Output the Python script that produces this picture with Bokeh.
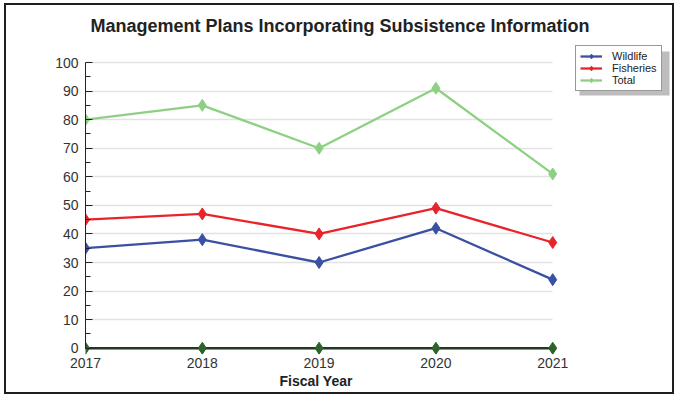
from bokeh.plotting import figure
from bokeh.models import Legend, LegendItem, Range1d, FixedTicker, BoxAnnotation, Title
from bokeh.embed import file_html
from bokeh.resources import INLINE

years = [2017, 2018, 2019, 2020, 2021]
wildlife = [35, 38, 30, 42, 24]
fisheries = [45, 47, 40, 49, 37]
total = [80, 85, 70, 91, 61]
baseline = [0, 0, 0, 0, 0]
y_ticks = [0, 10, 20, 30, 40, 50, 60, 70, 80, 90, 100]

FONT = "Liberation Sans"

# frame is extended right/up to leave room for the legend; axes and grid are bounded to the data extent
p = figure(width=670, height=391, output_backend="svg", toolbar_location=None,
           x_range=Range1d(2017, 2022), y_range=Range1d(-2.2, 107),
           min_border_left=79, min_border_right=7, min_border_top=37, min_border_bottom=42)
p.styles = {"border": "2px solid #1e1e1e", "margin-left": "4px", "margin-top": "3px"}
p.outline_line_color = None
p.background_fill_color = "white"

p.title.text = "Management Plans Incorporating Subsistence Information"
p.title.text_font = FONT
p.title.text_font_size = "18px"
p.title.text_font_style = "bold"
p.title.text_color = "#222222"
p.title.align = "left"
p.title.offset = 5
p.title.standoff = 14

p.xgrid.visible = False
p.ygrid.grid_line_color = "#e2e2e2"
p.ygrid.grid_line_width = 1.5
p.ygrid.cross_bounds = (years[0], years[-1])

p.xaxis.ticker = FixedTicker(ticks=years)
p.xaxis.bounds = (years[0], years[-1])
p.xaxis.major_tick_line_color = None
p.xaxis.minor_tick_line_color = None
p.xaxis.axis_line_color = None
p.xaxis.major_label_standoff = -3

xlabel = Title(text="Fiscal Year", align="left", offset=194, standoff=0,
               text_font=FONT, text_font_size="14px", text_font_style="bold",
               text_color="#222222")
p.add_layout(xlabel, "below")

p.yaxis.ticker = FixedTicker(ticks=y_ticks, minor_ticks=list(range(5, 100, 10)))
p.yaxis.bounds = (y_ticks[0], y_ticks[-1])
p.yaxis.major_tick_in = 7
p.yaxis.major_tick_out = 0
p.yaxis.minor_tick_in = 5
p.yaxis.minor_tick_out = 0
p.yaxis.major_tick_line_color = "#222222"
p.yaxis.minor_tick_line_color = "#222222"
p.yaxis.axis_line_color = "#222222"
p.yaxis.major_label_standoff = 7

for ax in (p.xaxis, p.yaxis):
    ax.major_label_text_font = FONT
    ax.major_label_text_font_size = "14px"
    ax.major_label_text_color = "#333333"

series = [("Wildlife", wildlife, "#3a50a2"),
          ("Fisheries", fisheries, "#e8232a"),
          ("Total", total, "#8ed083")]
items = []
for name, vals, col in series:
    l = p.line(years, vals, line_color=col, line_width=2.3)
    m = p.scatter(years, vals, marker="diamond", size=12, fill_color=col, line_color=col)
    items.append(LegendItem(label=name, renderers=[l, m]))

p.line(years, baseline, line_color="#1f3a1c", line_width=2.5)
p.scatter(years, baseline, marker="diamond", size=12, fill_color="#2d632b", line_color="#2d632b")

# legend drop shadow (screen units, relative to frame bottom-left)
shadow = BoxAnnotation(left=494, right=587, bottom=259, top=303,
                       left_units="screen", right_units="screen",
                       bottom_units="screen", top_units="screen",
                       fill_color="#bdbdbd", fill_alpha=1, line_color=None)
p.add_layout(shadow)

legend = Legend(items=items, location=(490, 263))
legend.label_text_font = FONT
legend.label_text_font_size = "11px"
legend.label_text_color = "#222222"
legend.label_height = 12
legend.glyph_height = 12
legend.glyph_width = 22
legend.spacing = 0
legend.padding = 4
legend.margin = 0
legend.label_standoff = 10
legend.border_line_color = "#333333"
legend.border_line_width = 1
legend.background_fill_alpha = 1
p.add_layout(legend, "center")

open("out.html", "w").write(file_html(p, INLINE))
